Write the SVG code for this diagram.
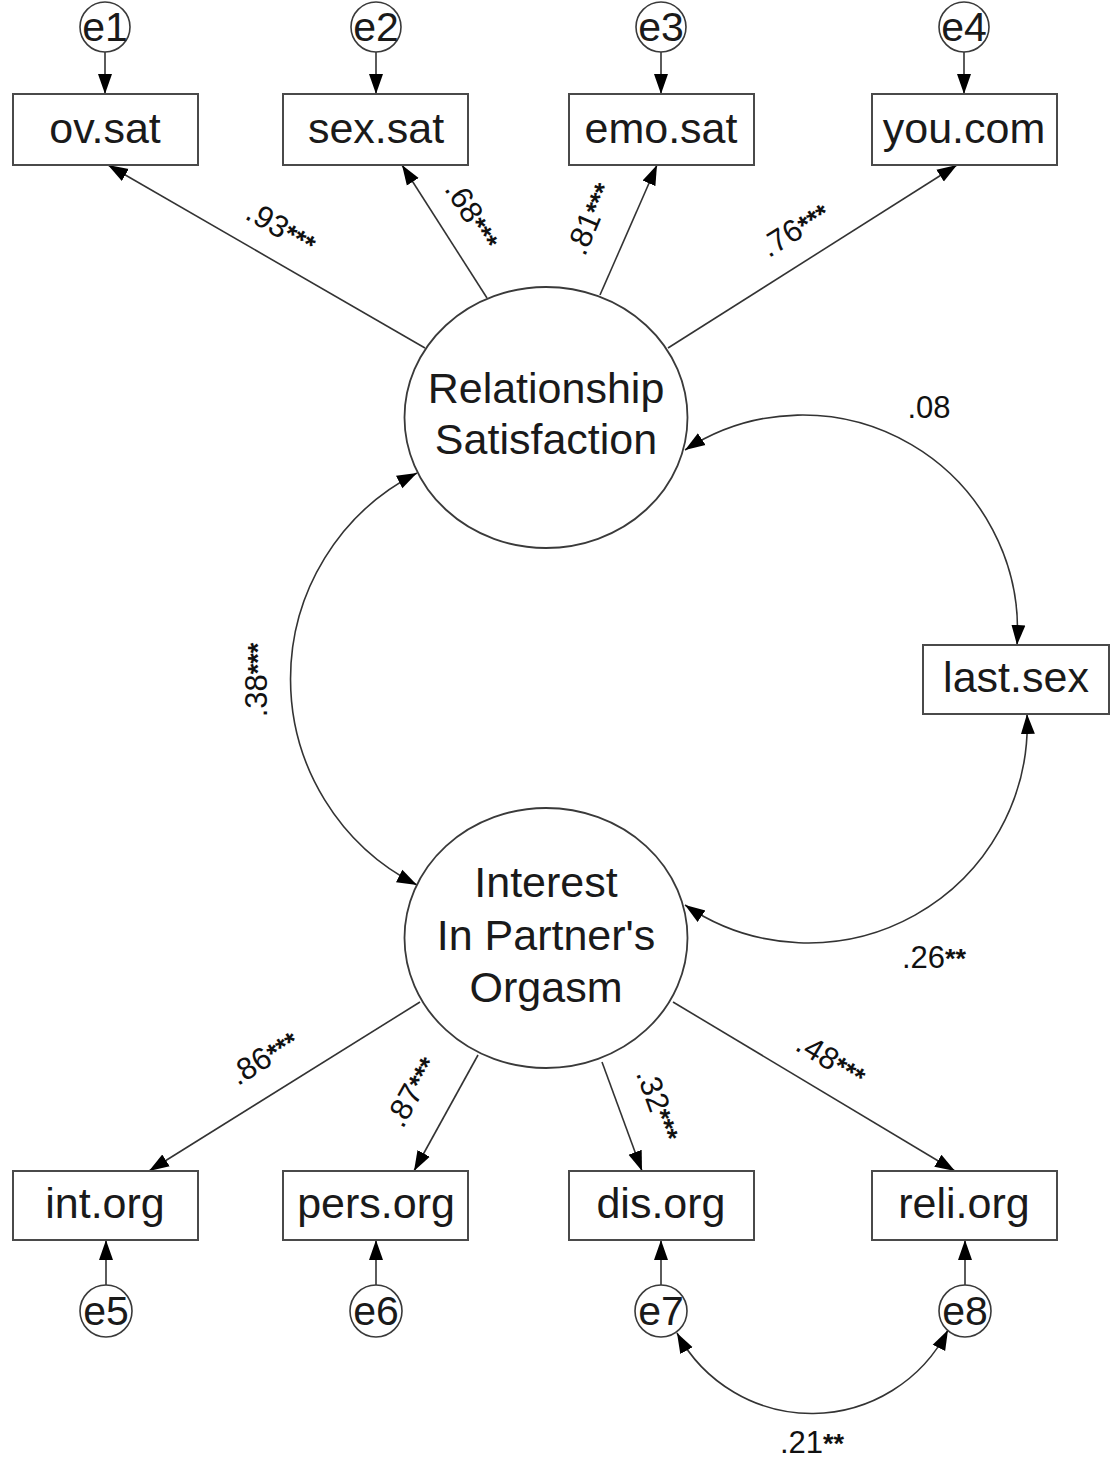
<svg xmlns="http://www.w3.org/2000/svg" width="1113" height="1458" viewBox="0 0 1113 1458">
<style>
.box{fill:#fff;stroke:#4a4a4a;stroke-width:2}
.lat{fill:#fff;stroke:#3a3a3a;stroke-width:1.8}
.err{fill:#fff;stroke:#3a3a3a;stroke-width:1.6}
.nt{font-family:"Liberation Sans",Arial,sans-serif;font-size:43px;fill:#1a1a1a;text-anchor:middle}
.et{font-family:"Liberation Sans",Arial,sans-serif;font-size:41px;fill:#1a1a1a;text-anchor:middle}
.lb{font-family:"Liberation Sans",Arial,sans-serif;font-size:31px;fill:#111;text-anchor:middle}
.st{font-size:27px;font-weight:bold}
.cn{fill:none;stroke:#333;stroke-width:1.6}
</style>
<defs>
<marker id="ah" markerUnits="userSpaceOnUse" markerWidth="22" markerHeight="16" refX="20" refY="8" orient="auto-start-reverse" viewBox="0 0 22 16">
<path d="M0,1 L20,8 L0,15 z" fill="#000"/>
</marker>
</defs>

<g id="connectors">
<line class="cn" x1="105" y1="52" x2="105" y2="94" marker-end="url(#ah)"/>
<line class="cn" x1="376" y1="52" x2="376" y2="94" marker-end="url(#ah)"/>
<line class="cn" x1="661" y1="52" x2="661" y2="94" marker-end="url(#ah)"/>
<line class="cn" x1="964" y1="52" x2="964" y2="94" marker-end="url(#ah)"/>
<line class="cn" x1="106" y1="1285" x2="106" y2="1240" marker-end="url(#ah)"/>
<line class="cn" x1="376" y1="1285" x2="376" y2="1240" marker-end="url(#ah)"/>
<line class="cn" x1="661" y1="1285" x2="661" y2="1240" marker-end="url(#ah)"/>
<line class="cn" x1="965" y1="1285" x2="965" y2="1240" marker-end="url(#ah)"/>
<line class="cn" x1="425" y1="348" x2="108" y2="165" marker-end="url(#ah)"/>
<line class="cn" x1="487" y1="298" x2="402" y2="165" marker-end="url(#ah)"/>
<line class="cn" x1="600" y1="295" x2="657" y2="165" marker-end="url(#ah)"/>
<line class="cn" x1="668" y1="348" x2="957" y2="165" marker-end="url(#ah)"/>
<line class="cn" x1="420" y1="1002" x2="149" y2="1171" marker-end="url(#ah)"/>
<line class="cn" x1="478" y1="1055" x2="414" y2="1171" marker-end="url(#ah)"/>
<line class="cn" x1="602" y1="1062" x2="642" y2="1171" marker-end="url(#ah)"/>
<line class="cn" x1="673" y1="1002" x2="955" y2="1171" marker-end="url(#ah)"/>
<path class="cn" d="M417,473 A231,231 0 0,0 417,885" marker-start="url(#ah)" marker-end="url(#ah)"/>
<path class="cn" d="M685,450 A215,215 0 0,1 1017,645" marker-start="url(#ah)" marker-end="url(#ah)"/>
<path class="cn" d="M685,905 A219,219 0 0,0 1027,714" marker-start="url(#ah)" marker-end="url(#ah)"/>
<path class="cn" d="M677,1333 A153,153 0 0,0 948,1330" marker-start="url(#ah)" marker-end="url(#ah)"/>
</g>

<g id="labels">
<text class="lb" transform="translate(281,228) rotate(30)" y="10">.93<tspan class="st">***</tspan></text>
<text class="lb" transform="translate(472,215) rotate(58)" y="10">.68<tspan class="st">***</tspan></text>
<text class="lb" transform="translate(590,219) rotate(-67)" y="10">.81<tspan class="st">***</tspan></text>
<text class="lb" transform="translate(795,230) rotate(-32)" y="10">.76<tspan class="st">***</tspan></text>
<text class="lb" transform="translate(257,680) rotate(-90)" y="10">.38<tspan class="st">***</tspan></text>
<text class="lb" transform="translate(264,1058) rotate(-32)" y="10">.86<tspan class="st">***</tspan></text>
<text class="lb" transform="translate(412,1092) rotate(-61)" y="10">.87<tspan class="st">***</tspan></text>
<text class="lb" transform="translate(658,1105) rotate(70)" y="10">.32<tspan class="st">***</tspan></text>
<text class="lb" transform="translate(831,1060) rotate(31)" y="10">.48<tspan class="st">***</tspan></text>
<text class="lb" x="929" y="418">.08</text>
<text class="lb" x="934" y="968">.26<tspan class="st">**</tspan></text>
<text class="lb" x="812" y="1453">.21<tspan class="st">**</tspan></text>
</g>

<g id="e1"><circle class="err" cx="105" cy="27" r="25"/><text class="et" x="105" y="41">e1</text></g>
<g id="e2"><circle class="err" cx="376" cy="27" r="25"/><text class="et" x="376" y="41">e2</text></g>
<g id="e3"><circle class="err" cx="661" cy="27" r="25"/><text class="et" x="661" y="41">e3</text></g>
<g id="e4"><circle class="err" cx="964" cy="27" r="25"/><text class="et" x="964" y="41">e4</text></g>

<g id="ov.sat"><rect class="box" x="13" y="94" width="185" height="71"/><text class="nt" x="105" y="143">ov.sat</text></g>
<g id="sex.sat"><rect class="box" x="283" y="94" width="185" height="71"/><text class="nt" x="376" y="143">sex.sat</text></g>
<g id="emo.sat"><rect class="box" x="569" y="94" width="185" height="71"/><text class="nt" x="661" y="143">emo.sat</text></g>
<g id="you.com"><rect class="box" x="872" y="94" width="185" height="71"/><text class="nt" x="964" y="143">you.com</text></g>

<g id="RS"><ellipse class="lat" cx="546" cy="417.5" rx="141.5" ry="130.5"/><text class="nt" x="546" y="403">Relationship</text><text class="nt" x="546" y="454">Satisfaction</text></g>

<g id="last.sex"><rect class="box" x="923" y="645" width="186" height="69"/><text class="nt" x="1016" y="692">last.sex</text></g>

<g id="IPO"><ellipse class="lat" cx="546" cy="938" rx="141.5" ry="130"/><text class="nt" x="546" y="897">Interest</text><text class="nt" x="546" y="950">In Partner's</text><text class="nt" x="546" y="1002">Orgasm</text></g>

<g id="int.org"><rect class="box" x="13" y="1171" width="185" height="69"/><text class="nt" x="105" y="1218">int.org</text></g>
<g id="pers.org"><rect class="box" x="283" y="1171" width="185" height="69"/><text class="nt" x="376" y="1218">pers.org</text></g>
<g id="dis.org"><rect class="box" x="569" y="1171" width="185" height="69"/><text class="nt" x="661" y="1218">dis.org</text></g>
<g id="reli.org"><rect class="box" x="872" y="1171" width="185" height="69"/><text class="nt" x="964" y="1218">reli.org</text></g>

<g id="e5"><circle class="err" cx="106" cy="1311" r="26"/><text class="et" x="106" y="1325">e5</text></g>
<g id="e6"><circle class="err" cx="376" cy="1311" r="26"/><text class="et" x="376" y="1325">e6</text></g>
<g id="e7"><circle class="err" cx="661" cy="1311" r="26"/><text class="et" x="661" y="1325">e7</text></g>
<g id="e8"><circle class="err" cx="965" cy="1311" r="26"/><text class="et" x="965" y="1325">e8</text></g>
</svg>
